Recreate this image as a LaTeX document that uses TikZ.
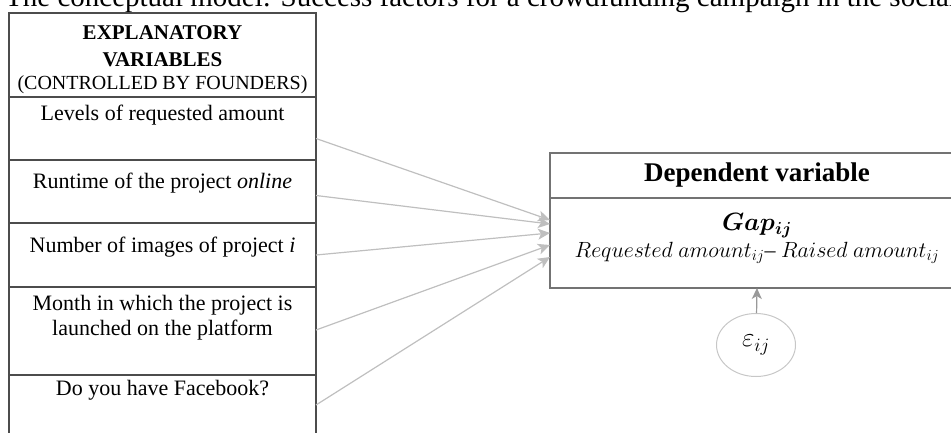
\RequirePackage{fix-cm}
\documentclass[tikz,border=0pt]{standalone}
\usepackage{fontspec}
\usepackage{bm}
\setmainfont{Liberation Serif}
\usetikzlibrary{positioning, arrows.meta, shapes.geometric}

\begin{document}
\begin{tikzpicture}[
    x=1pt, y=-1pt,
    cell/.style={rectangle, draw=black!70, line width=1.6pt, outer sep=0pt, minimum width=307pt},
    celltext/.style={anchor=north, inner sep=0pt, align=center, font=\fontsize{22}{25}\selectfont},
    depbox/.style={rectangle, draw=black!55, line width=1.8pt, outer sep=0pt, minimum width=414pt},
    errnode/.style={ellipse, draw=black!22, line width=1pt, inner sep=0pt, minimum width=79pt, minimum height=63pt, font=\fontsize{27}{30}\selectfont},
    arrow/.style={-{Stealth[length=12pt, width=11pt, inset=3pt]}, draw=black!25, line width=1.2pt},
    errarrow/.style={-{Stealth[length=11pt, width=10pt, inset=3pt]}, draw=black!40, line width=1.2pt}
    ]
    \clip (0,0) rectangle (951,432);

    % Caption (cut by the page)
    \node[anchor=base west, inner sep=0pt, font=\fontsize{29}{34}\selectfont] (Caption) at (5,6)
        {The conceptual model: Success factors for a crowdfunding campaign in the social};

    % Explanatory variables
    \node[cell, minimum height=84pt,
        label={[celltext, yshift=-12pt, font=\fontsize{21}{27}\selectfont]north:{\textbf{EXPLANATORY}\\\textbf{VARIABLES}\\[-4pt]{\fontsize{20}{23}\selectfont(CONTROLLED BY FOUNDERS)}}}]
        (Header) at (162.5,55) {};
    \node[cell, minimum height=63pt, below=0pt of Header,
        label={[celltext, yshift=-8pt]north:{Levels of requested amount}}] (Levels) {};
    \node[cell, minimum height=63pt, below=0pt of Levels,
        label={[celltext, yshift=-13pt]north:{Runtime of the project \textit{online}}}] (Runtime) {};
    \node[cell, minimum height=64pt, below=0pt of Runtime,
        label={[celltext, yshift=-14pt]north:{Number of images of project \textit{i}}}] (Images) {};
    \node[cell, minimum height=88pt, below=0pt of Images,
        label={[celltext, yshift=-8pt]north:{Month in which the project is\\launched on the platform}}] (Month) {};
    \node[cell, minimum height=60pt, below=0pt of Month,
        label={[celltext, yshift=-5pt]north:{Do you have Facebook?}}] (Facebook) {};

    % Dependent variable
    \node[depbox, minimum height=45pt, font=\fontsize{27}{30}\selectfont\bfseries] (DepHeader) at (757,175.5) {Dependent variable};
    \node[depbox, minimum height=90pt, below=0pt of DepHeader,
        label={[celltext, yshift=-15pt, font=\fontsize{25}{28}\selectfont]north:{$\bm{Gap_{ij}}$}},
        label={[celltext, yshift=-44pt, font=\fontsize{22}{24}\selectfont]north:{$Requested\ amount_{ij}$\textendash\ $Raised\ amount_{ij}$}}] (Gap) {};
    \node[errnode] (Error) at (756,345) {$\varepsilon_{ij}$};

    % Connections
    \draw[arrow] ([yshift=-10pt]Levels.east) -- ([yshift=23pt]Gap.west);
    \draw[arrow] ([yshift=-4pt]Runtime.east) -- ([yshift=19pt]Gap.west);
    \draw[arrow] (Images.east) -- ([yshift=10pt]Gap.west);
    \draw[arrow] ([yshift=1pt]Month.east) -- ([yshift=-2pt]Gap.west);
    \draw[arrow] (Facebook.east) -- ([yshift=-14pt]Gap.west);
    \draw[errarrow] (Error) -- (Gap.south);

\end{tikzpicture}
\end{document}
